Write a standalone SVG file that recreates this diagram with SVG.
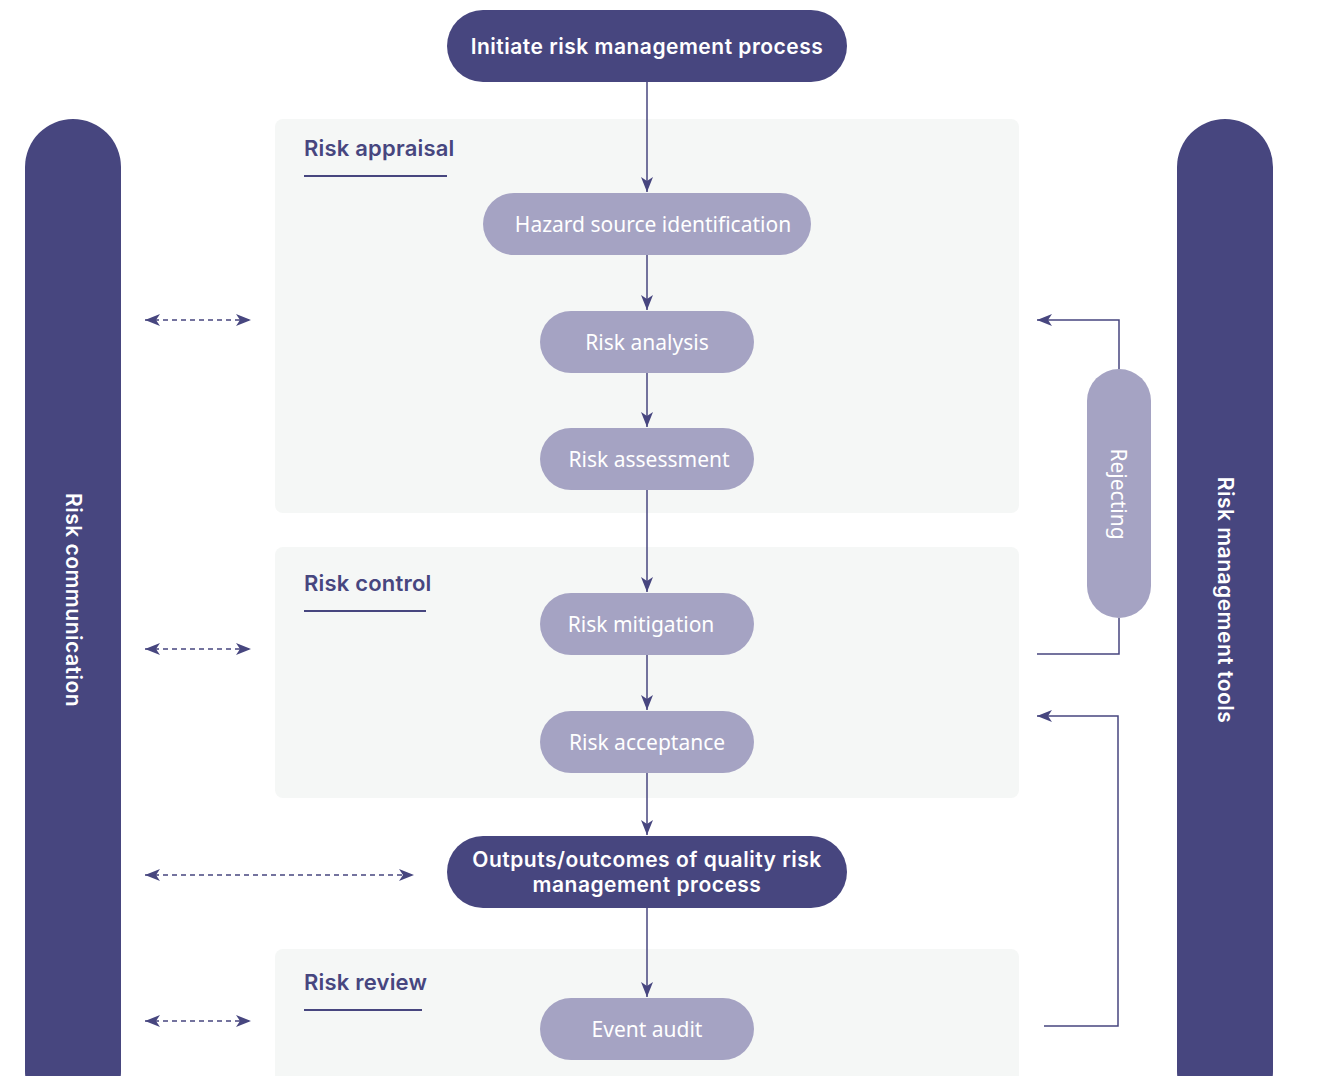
<svg xmlns="http://www.w3.org/2000/svg" width="1319" height="1076" viewBox="0 0 1319 1076">
<defs>
<style>
.dark{fill:#47467f}
.light{fill:#a5a3c3}
.panel{fill:#f5f7f6}
.tw{fill:#fff;font-family:"Noto Sans","Liberation Sans",sans-serif;font-size:21px;text-anchor:middle}
.tb{fill:#fff;font-family:Inter,"Noto Sans",sans-serif;font-weight:600;font-size:21px;letter-spacing:0.5px;text-anchor:middle}
.title{fill:#47467f;font-family:Inter,"Noto Sans",sans-serif;font-weight:600;font-size:22px;letter-spacing:0.2px}
.ul{stroke:#47467f;stroke-width:2}
.ln{stroke:#47467f;stroke-width:1.5;fill:none}
.dash{stroke:#47467f;stroke-width:1.5;fill:none;stroke-dasharray:5 4}
</style>
<marker id="ah" viewBox="0 0 15 12" refX="15" refY="6" markerWidth="15" markerHeight="12" markerUnits="userSpaceOnUse" orient="auto-start-reverse">
<path d="M0,0 L15,6 L0,12 L4,6 Z" fill="#47467f"/>
</marker>
</defs>
<rect width="1319" height="1076" fill="#fff"/>
<g id="panels">
<rect class="panel" x="275" y="119" width="744" height="394" rx="8"/>
<rect class="panel" x="275" y="547" width="744" height="251" rx="8"/>
<rect class="panel" x="275" y="949" width="744" height="140" rx="8"/>
</g>
<g id="panel-titles">
<text class="title" x="304" y="156">Risk appraisal</text>
<line class="ul" x1="304" y1="176" x2="447" y2="176"/>
<text class="title" x="304" y="591">Risk control</text>
<line class="ul" x1="304" y1="611" x2="426" y2="611"/>
<text class="title" x="304" y="990">Risk review</text>
<line class="ul" x1="304" y1="1010" x2="422" y2="1010"/>
</g>
<g id="connectors">
<line class="ln" x1="647" y1="82" x2="647" y2="192" marker-end="url(#ah)"/>
<line class="ln" x1="647" y1="255" x2="647" y2="310" marker-end="url(#ah)"/>
<line class="ln" x1="647" y1="373" x2="647" y2="427" marker-end="url(#ah)"/>
<line class="ln" x1="647" y1="490" x2="647" y2="592" marker-end="url(#ah)"/>
<line class="ln" x1="647" y1="655" x2="647" y2="710" marker-end="url(#ah)"/>
<line class="ln" x1="647" y1="773" x2="647" y2="835" marker-end="url(#ah)"/>
<line class="ln" x1="647" y1="908" x2="647" y2="997" marker-end="url(#ah)"/>
<polyline class="ln" points="1119,369 1119,320 1037,320" marker-end="url(#ah)"/>
<polyline class="ln" points="1119,618 1119,654 1037,654"/>
<polyline class="ln" points="1044,1026 1118,1026 1118,716 1037,716" marker-end="url(#ah)"/>
<line class="dash" x1="145" y1="320" x2="251" y2="320" marker-start="url(#ah)" marker-end="url(#ah)"/>
<line class="dash" x1="145" y1="649" x2="251" y2="649" marker-start="url(#ah)" marker-end="url(#ah)"/>
<line class="dash" x1="145" y1="875" x2="414" y2="875" marker-start="url(#ah)" marker-end="url(#ah)"/>
<line class="dash" x1="145" y1="1021" x2="251" y2="1021" marker-start="url(#ah)" marker-end="url(#ah)"/>
</g>
<g id="risk-communication">
<rect class="dark" x="25" y="119" width="96" height="1000" rx="48"/>
<text class="tb" transform="translate(66,600) rotate(90)">Risk communication</text>
</g>
<g id="risk-management-tools">
<rect class="dark" x="1177" y="119" width="96" height="1000" rx="48"/>
<text class="tb" transform="translate(1218,600) rotate(90)">Risk management tools</text>
</g>
<g id="rejecting">
<rect class="light" x="1087" y="369" width="64" height="249" rx="32"/>
<text class="tw" transform="translate(1111,494) rotate(90)">Rejecting</text>
</g>
<g id="initiate">
<rect class="dark" x="447" y="10" width="400" height="72" rx="36"/>
<text class="tb" x="647" y="54">Initiate risk management process</text>
</g>
<g id="hazard">
<rect class="light" x="483" y="193" width="328" height="62" rx="31"/>
<text class="tw" x="653" y="232">Hazard source identification</text>
</g>
<g id="analysis">
<rect class="light" x="540" y="311" width="214" height="62" rx="31"/>
<text class="tw" x="647" y="350">Risk analysis</text>
</g>
<g id="assessment">
<rect class="light" x="540" y="428" width="214" height="62" rx="31"/>
<text class="tw" x="649" y="467">Risk assessment</text>
</g>
<g id="mitigation">
<rect class="light" x="540" y="593" width="214" height="62" rx="31"/>
<text class="tw" x="641" y="632">Risk mitigation</text>
</g>
<g id="acceptance">
<rect class="light" x="540" y="711" width="214" height="62" rx="31"/>
<text class="tw" x="647" y="750">Risk acceptance</text>
</g>
<g id="outputs">
<rect class="dark" x="447" y="836" width="400" height="72" rx="36"/>
<text class="tb" x="647" y="867">Outputs/outcomes of quality risk</text>
<text class="tb" x="647" y="892">management process</text>
</g>
<g id="event-audit">
<rect class="light" x="540" y="998" width="214" height="62" rx="31"/>
<text class="tw" x="647" y="1037">Event audit</text>
</g>
</svg>
